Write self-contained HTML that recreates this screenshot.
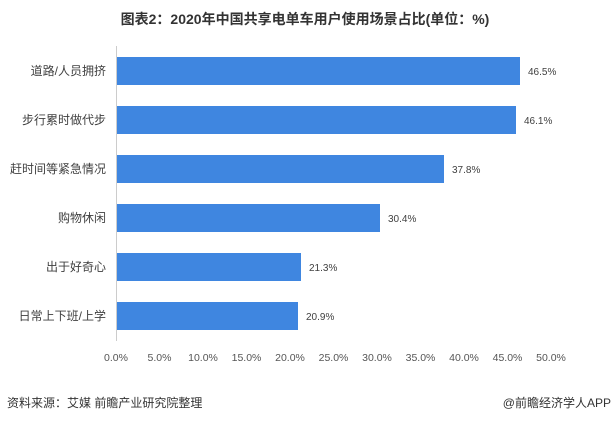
<!DOCTYPE html>
<html><head><meta charset="utf-8"><style>
body{margin:0;width:611px;height:423px;background:#fff;overflow:hidden;font-family:"Liberation Sans","Noto Sans CJK SC",sans-serif;}
</style></head><body>
<svg width="611" height="423" xmlns="http://www.w3.org/2000/svg" font-family="'Liberation Sans','Noto Sans CJK SC',sans-serif">
<text x="305" y="24" text-anchor="middle" font-size="14" font-weight="bold" fill="#333">图表2：2020年中国共享电单车用户使用场景占比(单位：%)</text>
<line x1="116.5" y1="46" x2="116.5" y2="341" stroke="#ccc" stroke-width="1"/>
<g fill="#3f86e0">
<rect x="117" y="57" width="403" height="28"/>
<rect x="117" y="106" width="399" height="28"/>
<rect x="117" y="155" width="327" height="28"/>
<rect x="117" y="204" width="263" height="28"/>
<rect x="117" y="253" width="184" height="28"/>
<rect x="117" y="302" width="181" height="28"/>
</g>
<g font-size="12" fill="#404040" text-anchor="end">
<text x="106" y="75">道路/人员拥挤</text>
<text x="106" y="124">步行累时做代步</text>
<text x="106" y="173">赶时间等紧急情况</text>
<text x="106" y="222">购物休闲</text>
<text x="106" y="271">出于好奇心</text>
<text x="106" y="320">日常上下班/上学</text>
</g>
<g font-size="10" fill="#404040">
<text x="528" y="75">46.5%</text>
<text x="524" y="124">46.1%</text>
<text x="452" y="173">37.8%</text>
<text x="388" y="222">30.4%</text>
<text x="309" y="271">21.3%</text>
<text x="306" y="320">20.9%</text>
</g>
<g font-size="10.5" fill="#555" text-anchor="middle">
<text x="116" y="361">0.0%</text><text x="159.5" y="361">5.0%</text><text x="203" y="361">10.0%</text>
<text x="246.5" y="361">15.0%</text><text x="290" y="361">20.0%</text><text x="333.5" y="361">25.0%</text>
<text x="377" y="361">30.0%</text><text x="420.5" y="361">35.0%</text><text x="464" y="361">40.0%</text>
<text x="507.5" y="361">45.0%</text><text x="551" y="361">50.0%</text>
</g>
<text x="7" y="407" font-size="12" fill="#333">资料来源：艾媒 前瞻产业研究院整理</text>
<text x="611" y="407" font-size="12" fill="#333" text-anchor="end">@前瞻经济学人APP</text>
</svg>
</body></html>
